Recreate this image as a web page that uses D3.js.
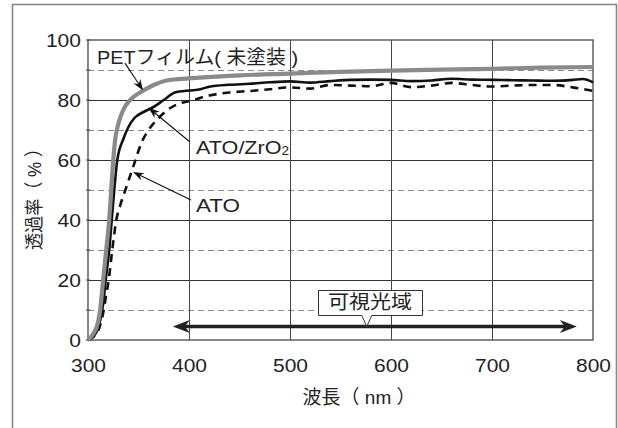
<!DOCTYPE html>
<html><head><meta charset="utf-8">
<script src="https://cdn.jsdelivr.net/npm/d3@7"></script>
<style>
html,body{margin:0;padding:0;background:#fff;}
svg{display:block;}
text{font-family:"Liberation Sans",Arial,"Noto Sans CJK JP",sans-serif;fill:#222;}
.jp{font-family:"Liberation Sans","Noto Sans CJK JP",sans-serif;}
</style></head>
<body>
<svg id="c" width="618" height="428"></svg>
<script>
// ---- data ----
const petNm  = [300,305,310,312,315,318,321,323,325,327,330,334,337,345,354,365,379,400,450,500,550,600,650,700,750,800];
const petT   = [0,2,6,10,20,30,40,50,60,67,72,76,78,81,83,85,86.6,87.2,88.2,88.8,89.4,89.8,90.1,90.4,90.8,91];
const zrNm   = [300,305,310,313,315,317.5,321,323.5,326,329,335,340,346,355,364,375,386,395,410,420,440,460,480,500,520,540,560,580,600,620,640,660,680,700,720,740,760,780,790,800];
const zrT    = [0,1,4,8,12,20,30,40,50,60,67,71,74,76,77.5,80,82.5,83,83.5,84.4,85.1,85.4,85.9,86.2,85.8,86.3,86.7,86.8,86.7,86.3,86.5,87.1,86.8,86.7,86.6,86.5,86.4,86.7,87,85.9];
const atoNm  = [300,305,310,315,318,320.5,324,328,332,337,342,347,352,360,370,380,390,400,420,440,460,480,500,520,540,560,580,600,620,640,660,680,700,720,740,760,780,800];
const atoT   = [0,1,3,9,15,20,30,40,45,50,55,60,65,70,74,77,78.8,79.6,81.5,82.5,83,83.6,84.2,83.8,85,84.8,84.6,85.7,84.3,84.8,85.7,85,84.5,84.8,85,85,84.2,83];
const xTicks = [300,400,500,600,700,800];
const yTicks = [0,20,40,60,80,100];
const yDashed = [10,30,50,70,90];
const labels = ["PETフィルム( 未塗装 )","ATO/ZrO","ATO"];
const visibleRange = [384,784];
const visibleLabel = "可視光域";
const xTitle = "波長（ nm ）";
const yTitle = "透過率（ % ）";

// ---- layout ----
const svg = d3.select("#c");
const L=88,R=593,T=40,B=340;
const x = d3.scaleLinear().domain([300,800]).range([L,R]);
const y = d3.scaleLinear().domain([0,100]).range([B,T]);

// outer frame
svg.append("rect").attr("x",12.5).attr("y",4.5).attr("width",604).attr("height",440)
  .attr("fill","none").attr("stroke","#888").attr("stroke-width",1.6);

// grid
const g = svg.append("g");
g.selectAll(".hd").data(yDashed).join("line")
  .attr("x1",L).attr("x2",R).attr("y1",d=>y(d)+0.5).attr("y2",d=>y(d)+0.5)
  .attr("stroke","#8a8a8a").attr("stroke-width",1).attr("stroke-dasharray","6,4");
g.selectAll(".hs").data(yTicks.slice(1,-1)).join("line")
  .attr("x1",L).attr("x2",R).attr("y1",d=>y(d)+0.5).attr("y2",d=>y(d)+0.5)
  .attr("stroke","#333").attr("stroke-width",1);
g.selectAll(".vs").data(xTicks.slice(1,-1)).join("line")
  .attr("y1",T).attr("y2",B).attr("x1",d=>x(d)+0.5).attr("x2",d=>x(d)+0.5)
  .attr("stroke","#444").attr("stroke-width",1);
svg.append("rect").attr("x",L).attr("y",T).attr("width",R-L).attr("height",B-T)
  .attr("fill","none").attr("stroke","#555").attr("stroke-width",1.4);

// axes
const ax = svg.append("g").attr("transform",`translate(0,${B})`)
  .call(d3.axisBottom(x).tickValues(xTicks).tickSize(0).tickPadding(0));
ax.select(".domain").remove();
ax.selectAll("text").attr("y",25).attr("dy","0.35em").attr("font-size",19)
  .attr("textLength",35).attr("lengthAdjust","spacingAndGlyphs")
  .style("font-family","'Liberation Sans',Arial,sans-serif").attr("fill","#222");
const ay = svg.append("g").attr("transform",`translate(${L},0)`)
  .call(d3.axisLeft(y).tickValues(yTicks).tickSize(0).tickPadding(0));
ay.select(".domain").remove();
ay.selectAll("text").attr("x",-7).attr("dy","0.35em").attr("font-size",19)
  .attr("textLength",d=>String(d).length*11.7).attr("lengthAdjust","spacingAndGlyphs")
  .style("font-family","'Liberation Sans',Arial,sans-serif").attr("fill","#222");
// small ticks on left axis
svg.selectAll(".lt").data(d3.range(0,101,10)).join("line")
  .attr("x1",L-2).attr("x2",L+2).attr("y1",d=>y(d)).attr("y2",d=>y(d))
  .attr("stroke","#444").attr("stroke-width",1);

// axis titles
svg.append("text").attr("class","jp").attr("x",359).attr("y",397).attr("dy","0.35em")
  .attr("text-anchor","middle").attr("font-size",19).attr("textLength",113)
  .attr("lengthAdjust","spacingAndGlyphs").text(xTitle);
svg.append("text").attr("class","jp").attr("transform","translate(34,195) rotate(-90)")
  .attr("dy","0.35em").attr("text-anchor","middle").attr("font-size",19)
  .attr("textLength",110).attr("lengthAdjust","spacingAndGlyphs").text(yTitle);

// curves
const line = d3.line().x(d=>x(d[0])).y(d=>y(d[1])).curve(d3.curveMonotoneX);
const zip = (a,b)=>a.map((v,i)=>[v,b[i]]);
const plot = svg.append("g");
plot.append("path").datum(zip(atoNm,atoT)).attr("d",line).attr("fill","none")
  .attr("stroke","#111").attr("stroke-width",2.6).attr("stroke-dasharray","8,6");
plot.append("path").datum(zip(zrNm,zrT)).attr("d",line).attr("fill","none")
  .attr("stroke","#111").attr("stroke-width",2.6);
plot.append("path").datum(zip(petNm,petT)).attr("d",line).attr("fill","none")
  .attr("stroke","#8a8a8a").attr("stroke-width",4.2);

// annotation arrows
function arrow(x1,y1,x2,y2,len,half){
  const a=Math.atan2(y2-y1,x2-x1);
  svg.append("line").attr("x1",x1).attr("y1",y1).attr("x2",x2-Math.cos(a)*len*0.7).attr("y2",y2-Math.sin(a)*len*0.7)
    .attr("stroke","#111").attr("stroke-width",1.1);
  const bx=x2-Math.cos(a)*len, by=y2-Math.sin(a)*len;
  const nx=x2-Math.cos(a)*len*0.7, ny=y2-Math.sin(a)*len*0.7;
  const px=-Math.sin(a)*half, py=Math.cos(a)*half;
  svg.append("path").attr("d",`M${x2},${y2}L${bx+px},${by+py}L${nx},${ny}L${bx-px},${by-py}Z`).attr("fill","#111");
}
const ann = [
  {t:labels[0], tx:309, ty:94.3, w:201, a:[336.6,92.3,354.5,83.2]},
  {t:labels[1], tx:407, ty:64.3, w:93,  a:[401,66,360,77.4]},
  {t:labels[2], tx:407, ty:45,   w:44,  a:[402,46.7,344.5,56]}
];
ann.forEach((d,i)=>{
  arrow(x(d.a[0]),y(d.a[1]),x(d.a[2]),y(d.a[3]),11,4);
  const t = svg.append("text").attr("class","jp").attr("x",x(d.tx)).attr("y",y(d.ty)).attr("dy","0.35em")
    .attr("font-size",19).attr("textLength",d.w).attr("lengthAdjust","spacingAndGlyphs").text(d.t);
  if(i===1){ t.append("tspan").attr("font-size",12).attr("dy","0.1em").text("2"); }
});

// visible range arrow
const vy = y(4.5);
const x1 = x(visibleRange[0]), x2 = x(visibleRange[1]);
svg.append("line").attr("x1",x1+10).attr("x2",x2-10).attr("y1",vy).attr("y2",vy)
  .attr("stroke","#222").attr("stroke-width",3.5);
svg.append("path").attr("d",`M${x1},${vy}L${x1+17},${vy-6.5}L${x1+12},${vy}L${x1+17},${vy+6.5}Z`).attr("fill","#222");
svg.append("path").attr("d",`M${x2},${vy}L${x2-17},${vy-6.5}L${x2-12},${vy}L${x2-17},${vy+6.5}Z`).attr("fill","#222");
// callout
const cx = x(576);
svg.append("path").attr("d",`M318.5,290.5H422.5V315.5H${cx+5}L${cx},${vy}L${cx-5},315.5H318.5Z`)
  .attr("fill","#fff").attr("stroke","#333").attr("stroke-width",1);
svg.append("text").attr("class","jp").attr("x",370).attr("y",302.5).attr("dy","0.35em")
  .attr("text-anchor","middle").attr("font-size",19).attr("textLength",84)
  .attr("lengthAdjust","spacingAndGlyphs").text(visibleLabel);
</script>
</body></html>
